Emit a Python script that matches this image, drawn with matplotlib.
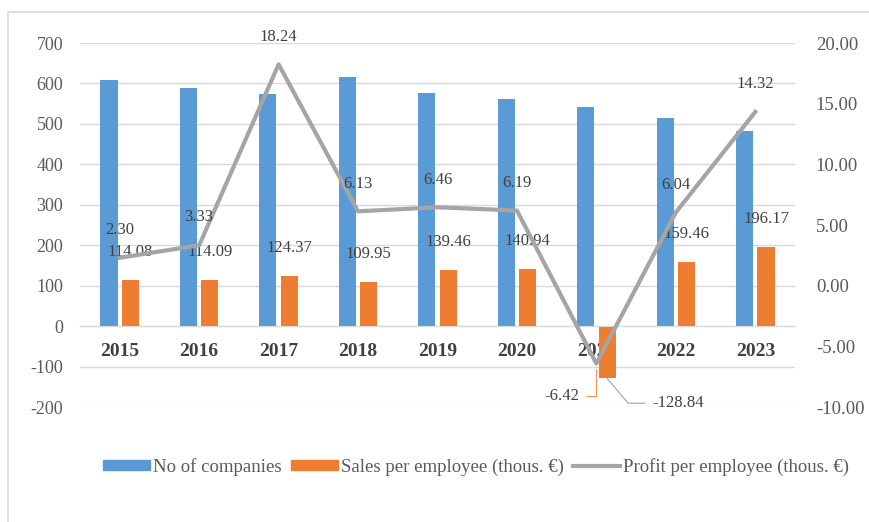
import matplotlib.pyplot as plt
import numpy as np
from matplotlib.lines import Line2D
from matplotlib.patches import Patch

years = ['2015', '2016', '2017', '2018', '2019', '2020', '2021', '2022', '2023']
companies = [609, 589, 574, 616, 577, 562, 542, 515, 483]
sales = [114.08, 114.09, 124.37, 109.95, 139.46, 140.94, -128.84, 159.46, 196.17]
profit = [2.30, 3.33, 18.24, 6.13, 6.46, 6.19, -6.42, 6.04, 14.32]

BLUE = '#5B9BD5'
ORANGE = '#ED7D31'
GRAY = '#A5A5A5'
TXT = '#595959'
LBL = '#404040'

plt.rcParams['font.family'] = ['Liberation Serif', 'DejaVu Serif']
plt.rcParams['axes.unicode_minus'] = False

fig = plt.figure(figsize=(8.7, 5.22), dpi=100)
ax = fig.add_axes([80 / 870, 1 - 407 / 522, 715 / 870, 364 / 522])
ax2 = ax.twinx()

x = np.arange(len(years))
w = 0.215
off = 0.135
ax.bar(x - off, companies, w, color=BLUE, zorder=2)
ax.bar(x + off, sales, w, color=ORANGE, zorder=2)

ax.set_xlim(-0.5, len(years) - 0.5)
ax.set_ylim(-200, 700)
ax.set_yticks(np.arange(-200, 701, 100))
ax.grid(axis='y', color='#D9D9D9', lw=1, zorder=0)
for s in ['top', 'right', 'left']:
    ax.spines[s].set_visible(False)
ax.spines['bottom'].set_position(('data', 0))
ax.spines['bottom'].set_color('#D9D9D9')
ax.set_xticks(x)
ax.set_xticklabels(years, fontweight='bold', fontsize=14, color='#404040')
ax.tick_params(axis='x', length=0, pad=12)
ax.tick_params(axis='y', length=0, labelsize=13, labelcolor=TXT, pad=12)

ax2.plot(x, profit, color=GRAY, lw=3, zorder=3)
ax2.set_ylim(-10, 20)
ax2.set_yticks(np.arange(-10, 21, 5))
ax2.set_yticklabels(['%.2f' % v for v in np.arange(-10, 21, 5)])
ax2.tick_params(axis='y', length=0, labelsize=13.5, labelcolor=TXT, pad=15)
for s in ax2.spines.values():
    s.set_visible(False)

# data labels
for i, v in enumerate(sales):
    if v < 0:
        continue
    ax.annotate('%.2f' % v, (x[i] + off, v), xytext=(0, 20), textcoords='offset points',
                ha='center', va='center', fontsize=12, color=LBL, zorder=5)
for i, v in enumerate(profit):
    if v < 0:
        continue
    ax2.annotate('%.2f' % v, (x[i], v), xytext=(0, 20), textcoords='offset points',
                 ha='center', va='center', fontsize=12, color=LBL, zorder=5)

# 2021 labels with leader lines
ax2.annotate('%.2f' % profit[6], (x[6], profit[6]), xytext=(-25, -23), textcoords='offset points',
             ha='center', va='center', fontsize=12, color=LBL,
             arrowprops=dict(arrowstyle='-', color=ORANGE, lw=0.6, relpos=(1, 0.5),
                             connectionstyle='angle,angleA=0,angleB=90,rad=0', shrinkA=3, shrinkB=4))
ax.annotate('%.2f' % sales[6], (x[6] + off, sales[6]), xytext=(51, -18), textcoords='offset points',
            ha='center', va='center', fontsize=12, color=LBL,
            arrowprops=dict(arrowstyle='-', color=GRAY, lw=0.8, relpos=(0, 0.5),
                            connectionstyle='angle,angleA=0,angleB=-50,rad=0', shrinkA=3, shrinkB=0))

# chart border (top and left)
fig.add_artist(Line2D([8 / 870, 1], [1 - 12 / 522] * 2, color='#D9D9D9', lw=1.2))
fig.add_artist(Line2D([8 / 870] * 2, [0, 1 - 12 / 522], color='#D9D9D9', lw=1.2))

handles = [Patch(color=BLUE), Patch(color=ORANGE), Line2D([], [], color=GRAY, lw=3)]
labels = ['No of companies', 'Sales per employee (thous. \u20ac)', 'Profit per employee (thous. \u20ac)']
fig.legend(handles, labels, loc='center', bbox_to_anchor=(476 / 870, 1 - 467 / 522), ncol=3,
           frameon=False, fontsize=13.5, handlelength=2.5, handleheight=0.45, columnspacing=0.5,
           handletextpad=0.15, labelcolor=TXT)

fig.savefig('out.png', dpi=100)
